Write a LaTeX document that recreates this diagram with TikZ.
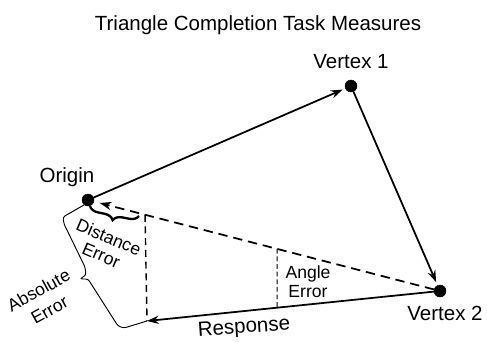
\documentclass[tikz,border=0pt]{standalone}
\usepackage{fontspec}
\setmainfont{Liberation Sans}
\usetikzlibrary{arrows.meta,positioning,calc,decorations.pathreplacing}

\begin{document}
\begin{tikzpicture}[
            x=0.03cm, y=-0.03cm,
            >={Stealth[length=10pt, width=7pt]},
            dot/.style={draw, circle, fill, inner sep=0pt, minimum size=3.6mm},
            lbl/.style={font=\fontsize{17.5}{20}\selectfont, inner sep=0pt},
            smalllbl/.style={font=\fontsize{15}{16.5}\selectfont, align=center, inner sep=0pt},
            leg/.style={line width=1.5pt},
            ideal/.style={line width=1.5pt, dash pattern=on 8pt off 5pt},
            drop/.style={line width=1.2pt, dash pattern=on 6pt off 4pt}
        ]
            \useasboundingbox (0,0) rectangle (487,341);

            \node[lbl] (title) at (258,25) {Triangle Completion Task Measures};

            % the three points of the triangle
            \node[dot] (org) at (88,200) {};
            \node[dot] (v1) at (351,86) {};
            \node[dot] (v2) at (440,291) {};
            \coordinate (resp) at (147,321);

            \node[lbl] (orglbl) at (67,177) {Origin};
            \node[lbl, above=0.32cm of v1] (v1lbl) {Vertex 1};
            \node[lbl, below=0.26cm of v2, xshift=0.15cm] (v2lbl) {Vertex 2};

            \coordinate (foot) at ($(org)!0.162!(v2)$);
            \coordinate (atop) at ($(org)!0.537!(v2)$);
            \coordinate (abot) at ($(resp)!0.444!(v2)$);

            \draw[leg, ->, shorten >=2.5pt] (org) -- (v1);
            \draw[leg, ->, shorten >=3pt] (v1) -- (v2);
            \draw[ideal, ->, shorten >=5pt] (v2) -- (org);
            \draw[leg, ->] (v2) -- (resp);

            % errors
            \draw[drop] (foot) -- (resp);
            \draw[line width=0.9pt, dash pattern=on 4pt off 2.5pt] (atop) -- (abot);
            \draw[line width=2pt, decorate, decoration={brace, mirror, amplitude=8pt}] (90,206) -- (139,216);
            \draw[line width=0.8pt, rounded corners=2pt] (84,205) -- (63,217) -- (64,224) -- (85,267)
                -- (86,275) -- (80,279) -- (88,279) -- (118,326) -- (124,328) -- (resp);

            \node[smalllbl, rotate=-23] (distlbl) at (105,246) {Distance\\Error};
            \node[smalllbl, rotate=29, font=\fontsize{15}{19}\selectfont] (abslbl) at (44,300) {Absolute\\Error};
            \node[smalllbl] (anglbl) at (308,282) {Angle\\Error};
            \node[lbl, rotate=4] (resplbl) at (244,328) {Response};
        \end{tikzpicture}
\end{document}
